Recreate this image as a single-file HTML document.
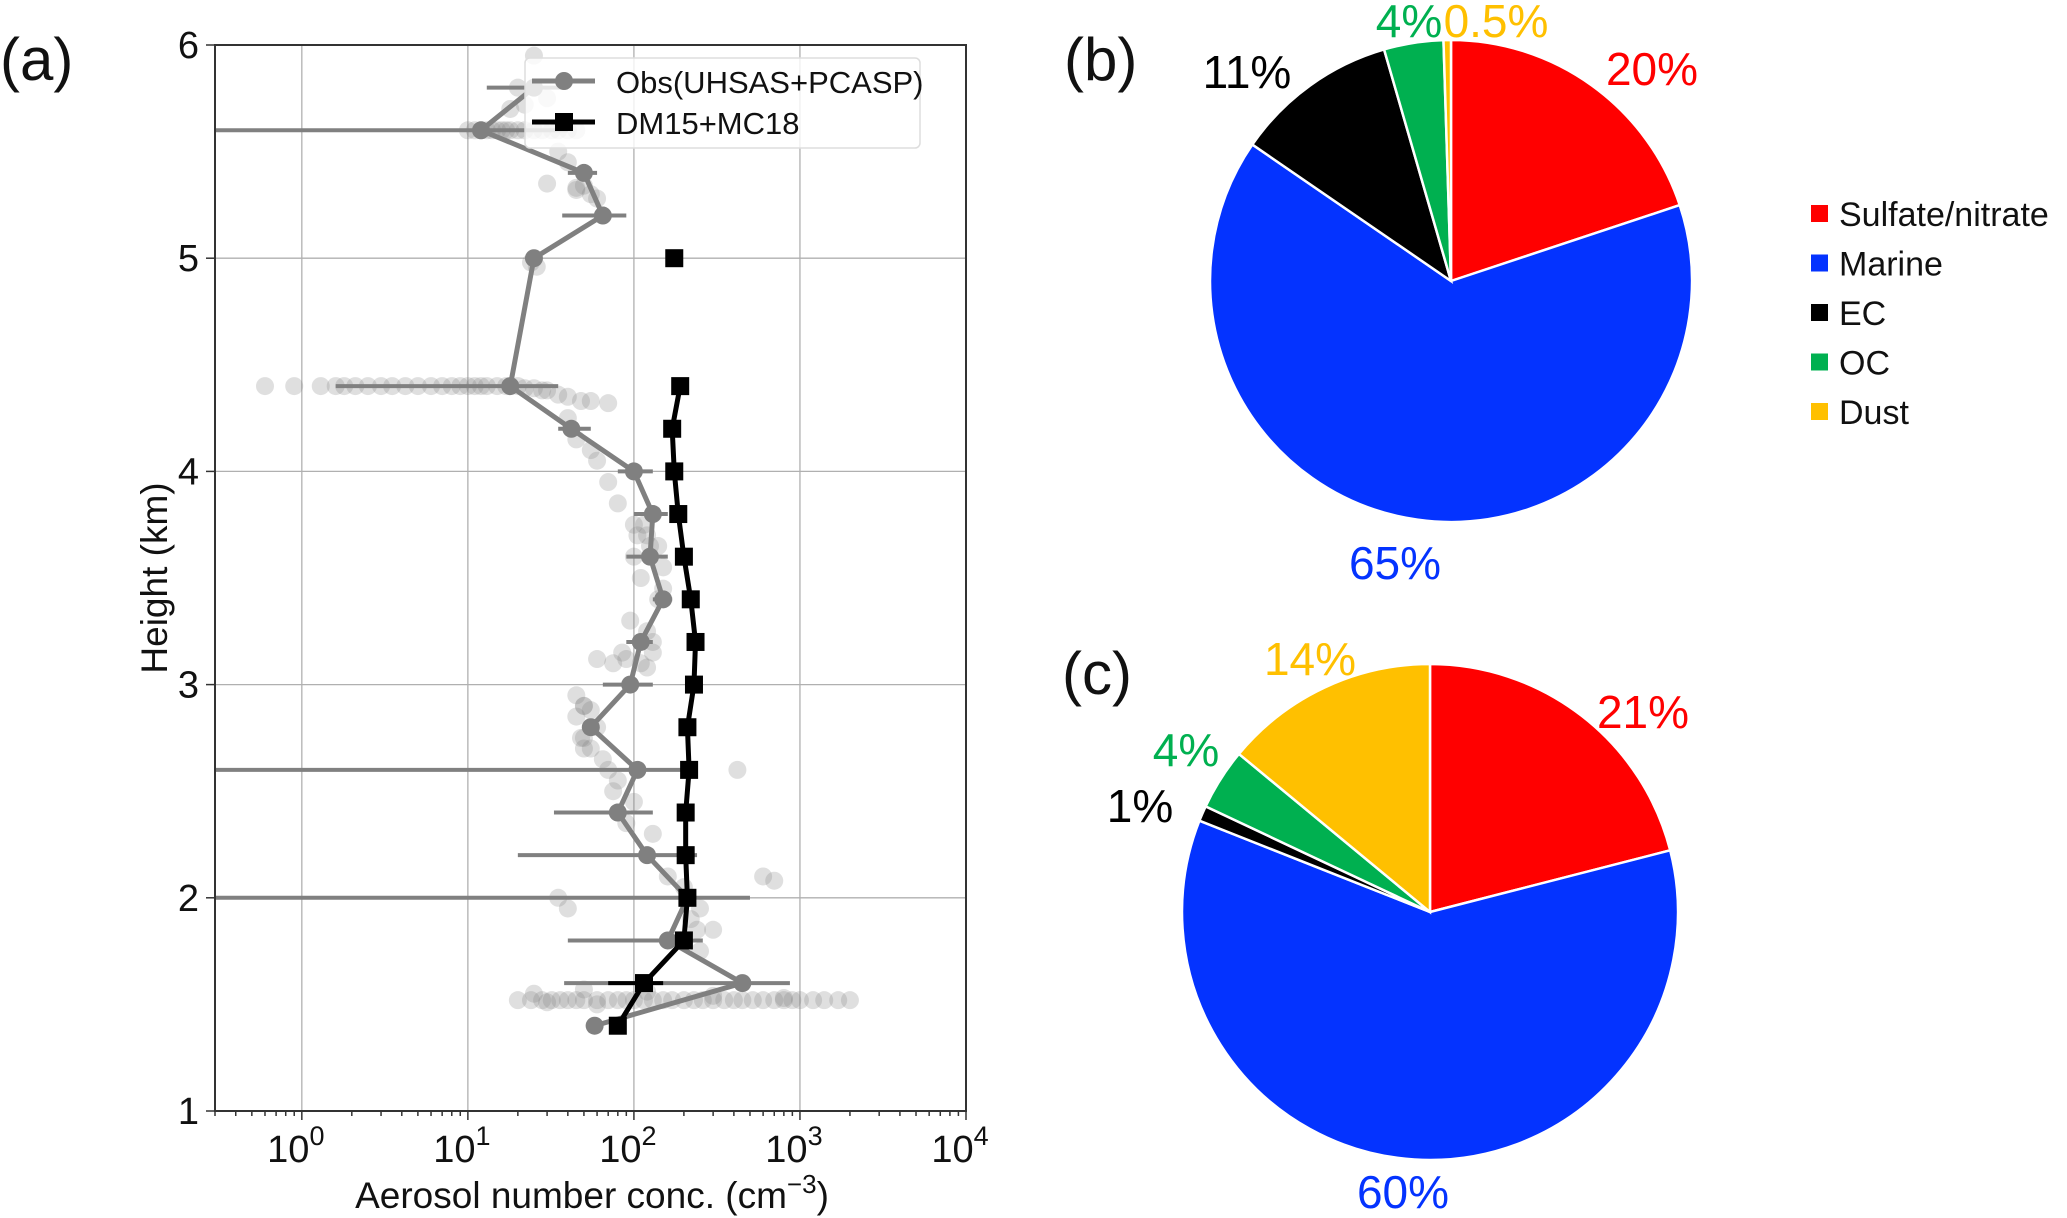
<!DOCTYPE html>
<html><head><meta charset="utf-8"><style>
html,body{margin:0;padding:0;background:#fff;}
svg{display:block;font-family:"Liberation Sans","DejaVu Sans",sans-serif;}
</style></head><body>
<svg id="fig" width="2067" height="1218" viewBox="0 0 2067 1218" xmlns="http://www.w3.org/2000/svg">
<g id="panelA"></g>
<g id="panelB"></g>
<g id="panelC"></g>
<g id="legendPie"></g>
</svg>
<script>
// ---- Panel (a) data ----
const obsHeights = [1.4,1.6,1.8,2.0,2.2,2.4,2.6,2.8,3.0,3.2,3.4,3.6,3.8,4.0,4.2,4.4,5.0,5.2,5.4,5.6,5.8];
const obsValues  = [58,450,160,210,120,80,105,55,95,110,150,125,130,100,42,18,25,65,50,12,25];
const obsErrLo   = [null,38,40,0.3,20,33,0.3,null,65,90,130,90,100,80,35,1.6,null,37,40,0.3,13];
const obsErrHi   = [null,870,260,500,240,130,200,null,130,130,170,160,160,130,55,35,null,90,60,40,40];
const modHeights = [1.4,1.6,1.8,2.0,2.2,2.4,2.6,2.8,3.0,3.2,3.4,3.6,3.8,4.0,4.2,4.4];
const modValues  = [80,115,200,210,205,205,215,210,230,235,220,200,185,175,170,190];
const modSingleH = [5.0];
const modSingleV = [175];
const scatterX = [0.6,0.9,1.3,1.6,1.8,2.1,2.5,3,3.5,4.2,5,6,7,8,9,10,11,12,13,15,17,20,22,25,28,30,35,40,48,55,70,
  20,24,28,32,36,40,45,50,60,70,80,90,100,115,130,150,170,200,230,260,300,350,400,450,520,600,700,800,900,1000,1200,1400,1700,2000,
  25,50,120,300,800,30,60,
  10,11,12,13,14,15,16,17,18,20,22,25,28,32,35,40,45,25,20,18,22,30,35,40,45,50,45,55,60,
  40,45,55,60,70,80,100,120,140,110,95,85,75,60,50,45,50,55,65,80,100,130,160,200,250,300,
  90,110,120,130,100,105,115,125,140,150,120,130,45,50,55,60,50,48,70,75,80,90,35,40,
  420,600,700,150,30,24,26,220,240,250];
const scatterH = [4.4,4.4,4.4,4.4,4.4,4.4,4.4,4.4,4.4,4.4,4.4,4.4,4.4,4.4,4.4,4.4,4.4,4.4,4.4,4.4,4.4,4.4,4.39,4.39,4.38,4.38,4.36,4.35,4.33,4.33,4.32,
  1.52,1.52,1.52,1.52,1.52,1.52,1.52,1.52,1.52,1.52,1.52,1.52,1.52,1.52,1.52,1.52,1.52,1.52,1.52,1.52,1.52,1.52,1.52,1.52,1.52,1.52,1.52,1.52,1.52,1.52,1.52,1.52,1.52,1.52,
  1.55,1.57,1.56,1.54,1.53,1.51,1.5,
  5.6,5.6,5.6,5.6,5.6,5.6,5.6,5.6,5.6,5.6,5.6,5.6,5.6,5.6,5.6,5.6,5.6,5.95,5.8,5.7,5.72,5.75,5.5,5.45,5.33,5.34,5.32,5.3,5.28,
  4.25,4.15,4.1,4.05,3.95,3.85,3.75,3.7,3.65,3.5,3.3,3.15,3.1,3.12,2.9,2.85,2.75,2.7,2.65,2.55,2.45,2.3,2.1,2.05,1.95,1.85,
  3.12,3.1,3.08,3.15,3.6,3.7,3.75,3.65,3.4,3.45,3.25,3.2,2.95,2.9,2.88,2.8,2.7,2.75,2.6,2.5,2.4,2.35,2.0,1.95,
  2.6,2.1,2.08,3.55,5.35,4.98,4.96,1.9,1.85,1.75];
const xTickExp = [0,1,2,3,4];
const yTicks = [1,2,3,4,5,6];
// ---- Pie data ----
const pieNames = ["Sulfate/nitrate","Marine","EC","OC","Dust"];
const pieColors = ["#ff0000","#0433ff","#000000","#00b050","#ffc000"];
const pieB = [20,65,11,4,0.5];
const pieC = [21,60,1,4,14];
const pieBLabels = ["20%","65%","11%","4%","0.5%"];
const pieCLabels = ["21%","60%","1%","4%","14%"];

const NS="http://www.w3.org/2000/svg";
function mk(parent,tag,attrs){const e=document.createElementNS(NS,tag);for(const k in attrs)e.setAttribute(k,attrs[k]);parent.appendChild(e);return e;}

const L=215,R=966,T=45,B=1111;
const xmin=Math.log10(0.3),xmax=4;
const xs=v=>L+(Math.log10(v)-xmin)/(xmax-xmin)*(R-L);
const ys=h=>B-(h-1)/(6-1)*(B-T);

const A=document.getElementById('panelA');
for(const e of xTickExp){const g=mk(A,'line',{x1:xs(10**e),x2:xs(10**e),y1:T,y2:B,stroke:'#b0b0b0','stroke-width':1.3});

}
for(const h of yTicks){const g=mk(A,'line',{x1:L,x2:R,y1:ys(h),y2:ys(h),stroke:'#b0b0b0','stroke-width':1.3});

}
const sc=mk(A,'g',{});


scatterX.forEach((v,i)=>{const c=mk(sc,'circle',{cx:xs(v),cy:ys(scatterH[i]),r:9,fill:'#808080','fill-opacity':0.25});

});
obsHeights.forEach((h,i)=>{if(obsErrLo[i]==null)return;
const e=mk(A,'line',{x1:xs(Math.max(obsErrLo[i],0.3)),x2:xs(obsErrHi[i]),y1:ys(h),y2:ys(h),stroke:'#808080','stroke-width':4});

});
const obsPts=obsHeights.map((h,i)=>xs(obsValues[i])+','+ys(h)).join(' ');
const ol=mk(A,'polyline',{points:obsPts,fill:'none',stroke:'#808080','stroke-width':5,'stroke-linejoin':'round'});


obsHeights.forEach((h,i)=>{const c=mk(A,'circle',{cx:xs(obsValues[i]),cy:ys(h),r:9,fill:'#808080'});

});
const me=mk(A,'line',{x1:xs(70),x2:xs(150),y1:ys(1.6),y2:ys(1.6),stroke:'#000','stroke-width':4});


const mPts=modHeights.map((h,i)=>xs(modValues[i])+','+ys(h)).join(' ');
const ml=mk(A,'polyline',{points:mPts,fill:'none',stroke:'#000','stroke-width':5,'stroke-linejoin':'round'});


modHeights.concat(modSingleH).forEach((h,i)=>{const v=i<modValues.length?modValues[i]:modSingleV[i-modValues.length];
const s=mk(A,'rect',{x:xs(v)-9,y:ys(h)-9,width:18,height:18,fill:'#000'});

});
const fr=mk(A,'rect',{x:L,y:T,width:R-L,height:B-T,fill:'none',stroke:'#333','stroke-width':2});


for(let e=-1;e<4;e++){for(let m=1;m<10;m++){const v=m*10**e;if(v<0.3||v>10000)continue;
const len=m==1?9:5;mk(A,'line',{x1:xs(v),x2:xs(v),y1:B,y2:B+len,stroke:'#333','stroke-width':1.5});}}
mk(A,'line',{x1:xs(10000),x2:xs(10000),y1:B,y2:B+9,stroke:'#333','stroke-width':1.5});
for(const e of xTickExp){const t=mk(A,'text',{x:xs(10**e)-6,y:1162,'font-size':38,'text-anchor':'middle',fill:'#111'});


t.textContent='10';const s=mk(t,'tspan',{dy:-17,'font-size':27});s.textContent=String(e);}
for(const h of yTicks){mk(A,'line',{x1:L-9,x2:L,y1:ys(h),y2:ys(h),stroke:'#333','stroke-width':1.5});
const t=mk(A,'text',{x:L-16,y:ys(h)+13,'font-size':38,'text-anchor':'end',fill:'#111'});


t.textContent=String(h);}
const xl=mk(A,'text',{x:592,y:1208,'font-size':37,'text-anchor':'middle',fill:'#111'});


xl.textContent='Aerosol number conc. (cm';{const s=mk(xl,'tspan',{dy:-15,'font-size':26});s.textContent='\u22123';const s2=mk(xl,'tspan',{dy:15});s2.textContent=')';}
const yl=mk(A,'text',{x:0,y:0,'font-size':37,'text-anchor':'middle',fill:'#111',transform:'translate(167,578) rotate(-90)'});


yl.textContent='Height (km)';
const pa=mk(A,'text',{x:0,y:80,'font-size':60,fill:'#111'});


pa.textContent='(a)';
const lg=mk(A,'g',{});


mk(lg,'rect',{x:525,y:58,width:395,height:90,rx:5,fill:'#fff','fill-opacity':0.8,stroke:'#ddd','stroke-width':1.5});
mk(lg,'line',{x1:532,x2:595,y1:81,y2:81,stroke:'#808080','stroke-width':5});
mk(lg,'circle',{cx:564,cy:81,r:9,fill:'#808080'});
mk(lg,'line',{x1:532,x2:595,y1:122,y2:122,stroke:'#000','stroke-width':5});
mk(lg,'rect',{x:555,y:113,width:18,height:18,fill:'#000'});
const l1=mk(lg,'text',{x:616,y:93,'font-size':31,fill:'#111'});l1.textContent='Obs(UHSAS+PCASP)';


const l2=mk(lg,'text',{x:616,y:134,'font-size':31,fill:'#111'});l2.textContent='DM15+MC18';



function drawPie(g,vals,labels,cx,cy,r,labelPos,tag){
  const tot=vals.reduce((a,b)=>a+b,0);let a0=0;
  vals.forEach((v,i)=>{const a1=a0+v/tot*2*Math.PI;
    const x0=cx+r*Math.sin(a0),y0=cy-r*Math.cos(a0),x1=cx+r*Math.sin(a1),y1=cy-r*Math.cos(a1);
    const large=(a1-a0)>Math.PI?1:0;
    const p=mk(g,'path',{d:`M${cx},${cy} L${x0},${y0} A${r},${r} 0 ${large} 1 ${x1},${y1} Z`,fill:pieColors[i],stroke:'#fff','stroke-width':2.5});
    
    
    a0=a1;});
  labels.forEach((s,i)=>{const t=mk(g,'text',{x:labelPos[i][0],y:labelPos[i][1],'font-size':46,'text-anchor':'middle',fill:pieColors[i]});
    
    
    t.textContent=s;});
}
drawPie(document.getElementById('panelB'),pieB,pieBLabels,1451,281,241,[[1652,85],[1395,579],[1247,88],[1409,37],[1496,37]],'b');
drawPie(document.getElementById('panelC'),pieC,pieCLabels,1430,912,248,[[1643,728],[1403,1208],[1140,822],[1186,766],[1310,675]],'c');
const pb=mk(document.getElementById('panelB'),'text',{x:1064,y:80,'font-size':60,fill:'#111'});pb.textContent='(b)';


const pc=mk(document.getElementById('panelC'),'text',{x:1062,y:694,'font-size':60,fill:'#111'});pc.textContent='(c)';


const LG=document.getElementById('legendPie');
pieNames.forEach((n,i)=>{const y=214+i*49.5;
  mk(LG,'rect',{x:1811,y:y-9,width:17,height:17,fill:pieColors[i]});
  const t=mk(LG,'text',{x:1839,y:y+12,'font-size':34,fill:'#111'});t.textContent=n;
  
  });
</script>
</body></html>
